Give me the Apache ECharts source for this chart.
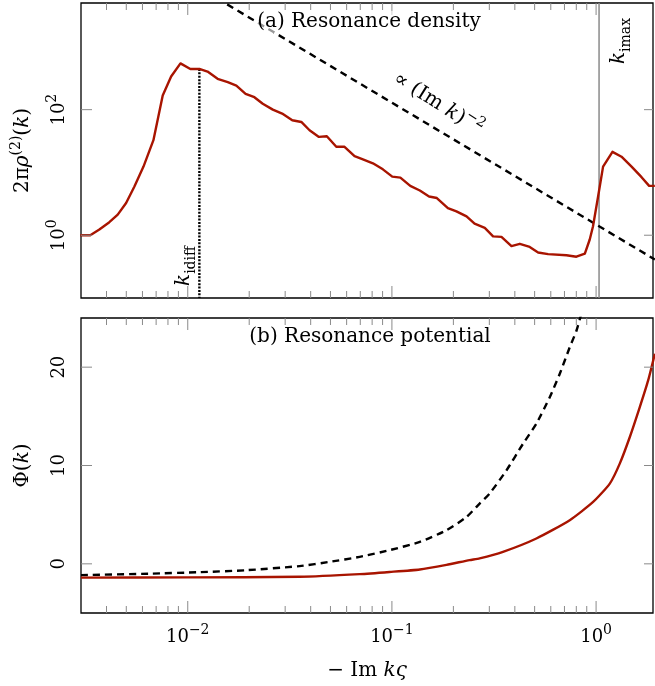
<!DOCTYPE html>
<html>
<head>
<meta charset="UTF-8"/>
<title>Resonance density and potential</title>
<script src="https://cdn.jsdelivr.net/npm/echarts@6/dist/echarts.min.js"></script>
<style type="text/css">
body  { margin: 0; padding: 0; background: #fff; }
#main { width: 655px; height: 686px; }
</style>
</head>
<body>
<div id="main"></div>
<script type="text/javascript">
// -- data --------------------------------------------------------------------
// (a) resonance density 2*pi*rho^(2)(k)
var rhoX = [0.00298, 0.00333, 0.00369, 0.00413, 0.00454, 0.00499, 0.00548, 0.00607, 0.00679, 0.00754,
            0.00829, 0.00921, 0.0103, 0.0114, 0.0125, 0.0140, 0.0157, 0.0173, 0.0192, 0.0212,
            0.0233, 0.0261, 0.0290, 0.0325, 0.0360, 0.0395, 0.0439, 0.0480, 0.0534, 0.0586,
            0.0656, 0.0721, 0.0807, 0.0903, 0.1004, 0.110, 0.123, 0.137, 0.152, 0.166,
            0.188, 0.207, 0.232, 0.254, 0.285, 0.313, 0.344, 0.385, 0.423, 0.473,
            0.520, 0.582, 0.716, 0.801, 0.881, 0.931, 0.966, 1.023, 1.082, 1.203,
            1.332, 1.492, 1.670, 1.819, 1.94];
var rhoY = [1.0, 1.0, 1.23, 1.61, 2.13, 3.26, 5.96, 12.4, 32.7, 168,
            337, 546, 445, 445, 404, 310, 274, 242, 179, 158,
            124, 100, 86.5, 67.8, 63.7, 47.0, 36.8, 37.8, 25.6, 25.6,
            18.2, 16.2, 14.0, 11.2, 8.58, 8.28, 6.11, 5.15, 4.14, 3.91,
            2.71, 2.40, 2.0, 1.53, 1.31, 0.96, 0.94, 0.67, 0.73, 0.65,
            0.53, 0.50, 0.48, 0.455, 0.51, 0.855, 1.39, 4.14, 12.4, 21.3,
            17.8, 12.4, 8.4, 6.11, 6.11];
// reference power law ~ (Im k)^-2
var powX = [0.0156, 1.94];
var powY = [4750, 0.41];
// marker positions
var kIdiff = 0.0114, kIdiffTop = 445, kImax = 1.034;

// (b) resonance potential Phi(k)
var phiX = [0.003, 0.01, 0.0353, 0.0695, 0.0974, 0.137, 0.185, 0.240, 0.269, 0.350,
            0.510, 0.743, 0.967, 1.167, 1.306, 1.463, 1.637, 1.799, 1.94];
var phiY = [-1.4, -1.38, -1.32, -1.05, -0.83, -0.57, -0.1, 0.38, 0.55, 1.22,
            2.58, 4.44, 6.29, 8.16, 10.19, 12.9, 15.94, 18.65, 21.36];
var dashX = [0.003, 0.0065, 0.0114, 0.0193, 0.0353, 0.0495, 0.0695, 0.0974, 0.137, 0.185,
             0.232, 0.269, 0.301, 0.364, 0.439, 0.510, 0.593, 0.664, 0.743, 0.802, 0.851];
var dashY = [-1.15, -1.0, -0.85, -0.65, -0.23, 0.2, 0.71, 1.39, 2.23, 3.42,
             4.77, 6.13, 7.15, 9.51, 12.22, 14.25, 16.95, 19.33, 22.03, 23.73, 25.6];

// tick positions
var xMajorTicks = [0.01, 0.1, 1];
var xMinorTicks = [0.004, 0.005, 0.006, 0.007, 0.008, 0.009,
                   0.02, 0.03, 0.04, 0.05, 0.06, 0.07, 0.08, 0.09,
                   0.2, 0.3, 0.4, 0.5, 0.6, 0.7, 0.8, 0.9];
var rhoTicks = [1, 100];
var phiTicks = [0, 10, 20];

// -- style ------------------------------------------------------------------
var FONT = 'DejaVu Serif';
var RED = '#a81400';
var TICK = '#8a8a8a';
var rich = {
    d: { fontFamily: FONT, fontSize: 18, color: '#000', lineHeight: 28 },
    t: { fontFamily: FONT, fontSize: 20, color: '#000', lineHeight: 28 },
    i: { fontFamily: FONT, fontSize: 20, color: '#000', fontStyle: 'italic', lineHeight: 28 },
    s: { fontFamily: FONT, fontSize: 14, color: '#000', verticalAlign: 'top', lineHeight: 16 },
    u: { fontFamily: FONT, fontSize: 14, color: '#000', verticalAlign: 'bottom', lineHeight: 16 },
    g:  { fontFamily: FONT, fontSize: 20, color: '#8a8a8a', fontStyle: 'italic', lineHeight: 28 },
    gu: { fontFamily: FONT, fontSize: 14, color: '#8a8a8a', verticalAlign: 'bottom', lineHeight: 16 }
};

function pow10Label(v) {
    var e = Math.round(Math.log10(v));
    return '{d|10}{s|' + (e < 0 ? '\u2212' + (-e) : e) + '}';
}

function zip(a, b) {
    return a.map(function (v, i) { return [v, b[i]]; });
}

// ticks drawn inside the frame: x ticks top and bottom, y ticks left and right
function xTicks(gi, refY) {
    var data = xMajorTicks.map(function (v) { return [v, refY, 1]; })
        .concat(xMinorTicks.map(function (v) { return [v, refY, 0]; }));
    return {
        type: 'custom', xAxisIndex: gi, yAxisIndex: gi, silent: true, z: 5,
        data: data,
        renderItem: function (params, api) {
            var cs = params.coordSys;
            var px = api.coord([api.value(0), refY])[0];
            var len = api.value(2) ? 12 : 7;
            var st = { stroke: TICK, lineWidth: 1 };
            return { type: 'group', children: [
                { type: 'line', shape: { x1: px, y1: cs.y, x2: px, y2: cs.y + len }, style: st },
                { type: 'line', shape: { x1: px, y1: cs.y + cs.height, x2: px, y2: cs.y + cs.height - len }, style: st }
            ]};
        }
    };
}

function yTicks(gi, vals) {
    return {
        type: 'custom', xAxisIndex: gi, yAxisIndex: gi, silent: true, z: 5,
        data: vals.map(function (v) { return [0.01, v]; }),
        renderItem: function (params, api) {
            var cs = params.coordSys;
            var py = api.coord([0.01, api.value(1)])[1];
            var st = { stroke: TICK, lineWidth: 1 };
            return { type: 'group', children: [
                { type: 'line', shape: { x1: cs.x, y1: py, x2: cs.x + 11, y2: py }, style: st },
                { type: 'line', shape: { x1: cs.x + cs.width, y1: py, x2: cs.x + cs.width - 9, y2: py }, style: st }
            ]};
        }
    };
}

var xBase = {
    type: 'log', logBase: 10, min: 0.003, max: 1.9,
    axisLine: { show: false }, axisTick: { show: false },
    splitLine: { show: false }
};

var chart = echarts.init(document.getElementById('main'), null, { renderer: 'canvas' });

var option = {
    animation: false,
    backgroundColor: '#fff',
    grid: [
        { left: 81, right: 2, top: 3, height: 295, show: true, borderColor: '#000', borderWidth: 1.3 },
        { left: 81, right: 2, top: 318, height: 295, show: true, borderColor: '#000', borderWidth: 1.3 }
    ],
    xAxis: [
        Object.assign({ gridIndex: 0, axisLabel: { show: false } }, xBase),
        Object.assign({
            gridIndex: 1,
            axisLabel: {
                margin: 10, showMinLabel: false, showMaxLabel: false,
                formatter: function (v) {
                    var e = Math.log10(v);
                    return Math.abs(e - Math.round(e)) < 1e-6 ? pow10Label(v) : '';
                },
                rich: rich
            },
            name: '{t|\u2212 Im }{i|k\u03c2}',
            nameLocation: 'middle', nameGap: 44,
            nameTextStyle: { rich: rich }
        }, xBase)
    ],
    yAxis: [
        {
            gridIndex: 0, type: 'log', logBase: 10, min: 0.1, max: 5000,
            axisLine: { show: false }, axisTick: { show: false }, splitLine: { show: false },
            axisLabel: {
                rotate: 90, margin: 8, showMinLabel: false, showMaxLabel: false,
                formatter: function (v) {
                    var e = Math.round(Math.log10(v));
                    return (e === 0 || e === 2) ? pow10Label(v) : '';
                },
                rich: rich
            },
            name: '{t|2\u03c0}{i|\u03c1}{s|(2)}{t|(}{i|k}{t|)}',
            nameLocation: 'middle', nameGap: 44,
            nameTextStyle: { rich: rich }
        },
        {
            gridIndex: 1, type: 'value', min: -5, max: 25,
            axisLine: { show: false }, axisTick: { show: false }, splitLine: { show: false },
            axisLabel: {
                rotate: 90, margin: 8,
                formatter: function (v) { return v % 10 === 0 ? '{d|' + v + '}' : ''; },
                rich: rich
            },
            name: '{t|\u03a6(}{i|k}{t|)}',
            nameLocation: 'middle', nameGap: 44,
            nameTextStyle: { rich: rich }
        }
    ],
    series: [
        // (a)
        {
            type: 'line', xAxisIndex: 0, yAxisIndex: 0, showSymbol: false, clip: true, z: 3,
            data: [[kImax, 0.1], [kImax, 5000]],
            lineStyle: { color: '#8a8a8a', width: 1.5 }
        },
        {
            type: 'line', xAxisIndex: 0, yAxisIndex: 0, showSymbol: false, clip: true, z: 3,
            data: [[kIdiff, kIdiffTop], [kIdiff, 0.1]],
            lineStyle: { color: '#000', width: 2.4, type: [2, 1.4] }
        },
        {
            type: 'line', xAxisIndex: 0, yAxisIndex: 0, showSymbol: false, clip: true, z: 4,
            data: zip(powX, powY),
            lineStyle: { color: '#000', width: 2.4, type: [7, 5] }
        },
        {
            type: 'line', xAxisIndex: 0, yAxisIndex: 0, showSymbol: false, clip: true, z: 4,
            data: zip(rhoX, rhoY),
            lineStyle: { color: RED, width: 2.4, join: 'round' }
        },
        // (b)
        {
            type: 'line', xAxisIndex: 1, yAxisIndex: 1, showSymbol: false, clip: true, z: 4,
            smooth: 0.2,
            data: zip(dashX, dashY),
            lineStyle: { color: '#000', width: 2.4, type: [7, 5], join: 'round' }
        },
        {
            type: 'line', xAxisIndex: 1, yAxisIndex: 1, showSymbol: false, clip: true, z: 4,
            smooth: 0.2,
            data: zip(phiX, phiY),
            lineStyle: { color: RED, width: 2.4, join: 'round' }
        },
        xTicks(0, 1), xTicks(1, 0),
        yTicks(0, rhoTicks), yTicks(1, phiTicks)
    ],
    graphic: [
        {
            type: 'text', x: 369, y: 22, z: 100,
            style: { text: '(a) Resonance density', font: '20px "DejaVu Serif"', fill: '#000',
                     align: 'center', verticalAlign: 'middle',
                     backgroundColor: 'rgba(255,255,255,0.6)', padding: [1, 3] }
        },
        {
            type: 'text', x: 370, y: 337, z: 100,
            style: { text: '(b) Resonance potential', font: '20px "DejaVu Serif"', fill: '#000',
                     align: 'center', verticalAlign: 'middle' }
        },
        {
            type: 'text', x: 438, y: 104, rotation: -0.56, z: 100,
            style: { text: '{t|\u221d (Im }{i|k}{t|)}{s|\u22122}', rich: rich,
                     align: 'center', verticalAlign: 'middle' }
        },
        {
            type: 'text', x: 184, y: 266, rotation: Math.PI / 2, z: 100,
            style: { text: '{i|k}{u|idiff}', rich: rich,
                     align: 'center', verticalAlign: 'middle' }
        },
        {
            type: 'text', x: 619, y: 41, rotation: Math.PI / 2, z: 100,
            style: { text: '{g|k}{gu|imax}', rich: rich,
                     align: 'center', verticalAlign: 'middle' }
        }
    ]
};

chart.setOption(option);
</script>
</body>
</html>
